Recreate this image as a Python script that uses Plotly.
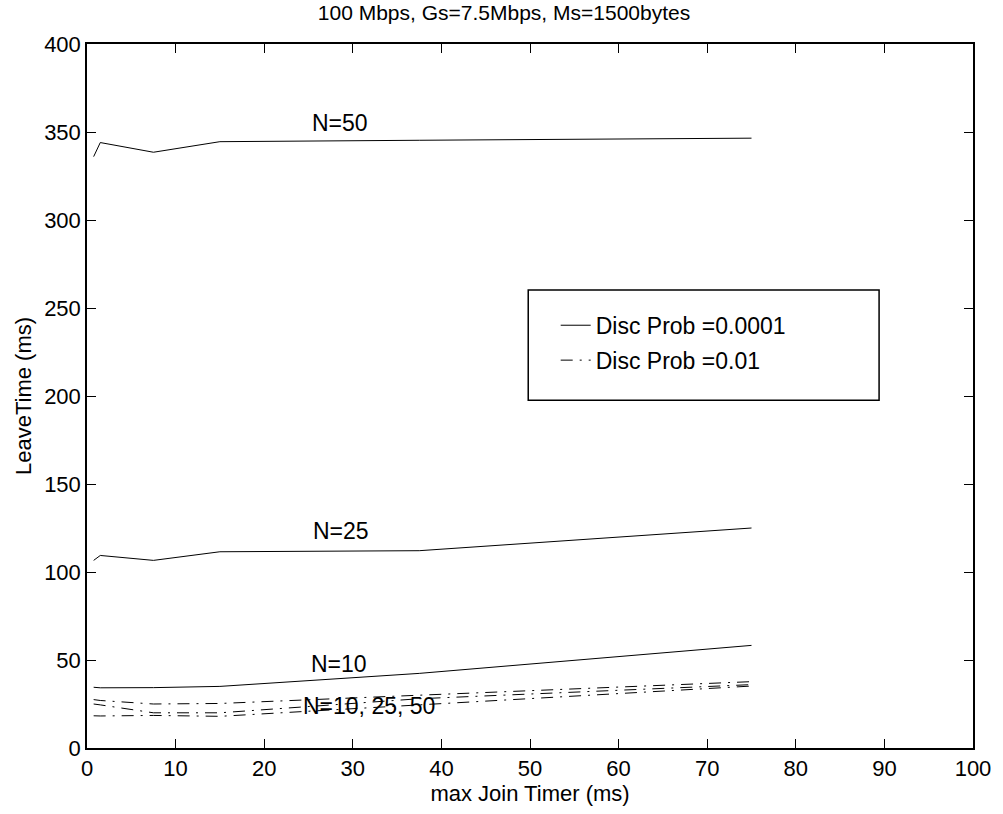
import plotly.graph_objects as go

# Data
join_timer = [0.75, 1.5, 7.5, 15, 37.5, 75]

# Disc Prob = 0.0001 (solid)
leave_n50_p0001 = [336, 344, 338.5, 344.5, 345.3, 346.5]
leave_n25_p0001 = [106.6, 109.4, 106.6, 111.5, 112.1, 125]
leave_n10_p0001 = [34.5, 34.2, 34.3, 35.0, 42.4, 58.3]

# Disc Prob = 0.01 (dash-dot)
leave_a_p01 = [27.5, 27.0, 25.0, 25.3, 30.0, 37.7]
leave_b_p01 = [25.0, 24.5, 20.0, 20.0, 28.0, 36.0]
leave_c_p01 = [18.3, 18.2, 18.5, 18.0, 24.5, 35.2]

title_text = "100 Mbps, Gs=7.5Mbps, Ms=1500bytes"
x_title = "max Join Timer (ms)"
y_title = "LeaveTime (ms)"
legend_labels = ["Disc Prob =0.0001", "Disc Prob =0.01"]

labels = [("N=50", 28.6, 355), ("N=25", 28.7, 123.3), ("N=10", 28.4, 48), ("N=10, 25, 50", 31.8, 23.9)]

FONT = "Liberation Sans, Arial, Helvetica, sans-serif"
DASHDOT = "12px,7px,2px,7px"

fig = go.Figure()
solid = [leave_n50_p0001, leave_n25_p0001, leave_n10_p0001]
dashed = [leave_a_p01, leave_b_p01, leave_c_p01]
for i, ys in enumerate(solid):
    fig.add_trace(go.Scatter(x=join_timer, y=ys, mode="lines",
                             line=dict(color="black", width=1),
                             name=legend_labels[0], legendgroup="g1",
                             showlegend=(i == 0)))
for i, ys in enumerate(dashed):
    fig.add_trace(go.Scatter(x=join_timer, y=ys, mode="lines",
                             line=dict(color="black", width=1, dash=DASHDOT),
                             name=legend_labels[1], legendgroup="g2",
                             showlegend=(i == 0)))

for txt, x, y in labels:
    fig.add_annotation(x=x, y=y, text=txt, showarrow=False,
                       font=dict(family=FONT, size=23, color="black"),
                       xanchor="center", yanchor="middle")

# Legend box
fig.add_shape(type="rect", xref="paper", yref="paper",
              x0=0.498, x1=0.894, y0=0.494, y1=0.6506,
              line=dict(color="black", width=1.5), fillcolor="white", layer="below")

axis_common = dict(showline=True, linecolor="black", linewidth=1.5, mirror="allticks",
                   ticks="inside", ticklen=9, tickcolor="black", showgrid=False,
                   zeroline=False, tickfont=dict(family=FONT, size=22, color="black"))

fig.update_layout(
    width=1003, height=814,
    margin=dict(l=87, r=27, t=44, b=66),
    paper_bgcolor="white", plot_bgcolor="white",
    title=dict(text=title_text, x=504/1003, xref="container", xanchor="center",
               y=1 - 13/814, yref="container", yanchor="middle",
               font=dict(family=FONT, size=21, color="black")),
    xaxis=dict(range=[0, 100], tickvals=list(range(0, 101, 10)),
               title=dict(text=x_title, font=dict(family=FONT, size=22, color="black"), standoff=4),
               **axis_common),
    yaxis=dict(range=[0, 400], tickvals=list(range(0, 401, 50)),
               title=dict(text=y_title, font=dict(family=FONT, size=22, color="black"), standoff=6),
               **axis_common),
    legend=dict(x=0.529, y=0.631, xanchor="left", yanchor="top",
                bgcolor="rgba(0,0,0,0)", borderwidth=0,
                font=dict(family=FONT, size=23, color="black"),
                tracegroupgap=2),
    showlegend=True,
)

fig.write_html("out.html")
